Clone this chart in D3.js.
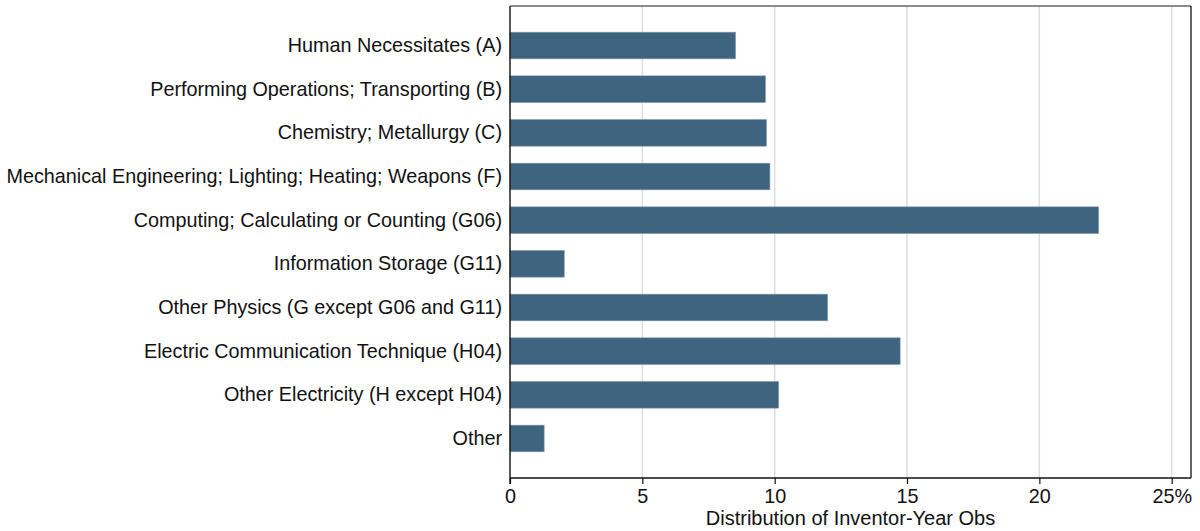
<!DOCTYPE html>
<html>
<head>
<meta charset="utf-8">
<script src="https://cdn.jsdelivr.net/npm/d3@7"></script>
<style>
  html, body { margin: 0; padding: 0; background: #fff; }
  svg { display: block; font-family: "Liberation Sans", Arial, sans-serif; }
</style>
</head>
<body>
<svg id="chart" width="1200" height="531"></svg>
<script>
// patent classes, top to bottom
var categories = [
  "Human Necessitates (A)",
  "Performing Operations; Transporting (B)",
  "Chemistry; Metallurgy (C)",
  "Mechanical Engineering; Lighting; Heating; Weapons (F)",
  "Computing; Calculating or Counting (G06)",
  "Information Storage (G11)",
  "Other Physics (G except G06 and G11)",
  "Electric Communication Technique (H04)",
  "Other Electricity (H except H04)",
  "Other"
];
// share of inventor-year obs, percent
var shares = [8.52, 9.65, 9.69, 9.82, 22.24, 2.05, 12.0, 14.74, 10.15, 1.29];
var xTicks = [0, 5, 10, 15, 20, 25];
var xTitle = "Distribution of Inventor-Year Obs";

(function () {
    var rows = categories.map(function (c, i) { return {name: c, value: shares[i]}; });

    // note: "top" is taken by window.top, so keep these local
    var pLeft = 510, pRight = 1191, pTop = 6, pBottom = 478;
    var svg = d3.select("#chart");

    var x = d3.scaleLinear().domain([0, 25]).range([pLeft, 1171.7]);
    var y = d3.scaleBand()
        .domain(categories)
        .range([pTop, pBottom])
        .paddingInner(0.39)
        .paddingOuter(0.6);

    // grid
    svg.append("g").selectAll("line")
        .data(xTicks.filter(function (t) { return t > 0; }))
        .enter().append("line")
        .attr("x1", function (d) { return x(d); })
        .attr("x2", function (d) { return x(d); })
        .attr("y1", pTop).attr("y2", pBottom)
        .attr("stroke", "#dddddd")
        .attr("stroke-width", 1.5);

    // bars
    svg.append("g").selectAll("rect")
        .data(rows)
        .enter().append("rect")
        .attr("x", x(0))
        .attr("y", function (d) { return y(d.name); })
        .attr("width", function (d) { return x(d.value) - x(0); })
        .attr("height", y.bandwidth())
        .attr("fill", "#3f6480")
        .attr("stroke", "#7d97ab")
        .attr("stroke-width", 0.6);

    // frame
    svg.append("line").attr("x1", pLeft).attr("x2", pRight).attr("y1", pTop).attr("y2", pTop)
        .attr("stroke", "#666").attr("stroke-width", 1.3);
    svg.append("line").attr("x1", pRight).attr("x2", pRight).attr("y1", pTop).attr("y2", pBottom)
        .attr("stroke", "#111").attr("stroke-width", 1.3);

    // x axis
    var xAxis = d3.axisBottom(x)
        .tickValues(xTicks)
        .tickSize(6)
        .tickSizeOuter(0)
        .tickFormat(function (d) { return d === 25 ? "25%" : d; });
    var gx = svg.append("g").attr("transform", "translate(0," + pBottom + ")").call(xAxis);
    gx.select(".domain").attr("stroke", "#111").attr("stroke-width", 1.4)
        .attr("d", "M" + pLeft + ",0H" + pRight);
    gx.selectAll(".tick line").attr("stroke", "#111").attr("stroke-width", 1.2);
    gx.selectAll(".tick text")
        .attr("y", 11)
        .attr("font-size", "19.8px")
        .attr("font-family", "Liberation Sans, Arial, sans-serif")
        .attr("fill", "#111");

    // y axis
    var yAxis = d3.axisLeft(y).tickSize(0).tickPadding(8);
    var gy = svg.append("g").attr("transform", "translate(" + pLeft + ",0)").call(yAxis);
    gy.select(".domain").attr("stroke", "#111").attr("stroke-width", 1.4)
        .attr("d", "M0," + pTop + "V" + (pBottom + 6));
    gy.selectAll(".tick text")
        .attr("font-size", "19.8px")
        .attr("font-family", "Liberation Sans, Arial, sans-serif")
        .attr("fill", "#111");

    // axis title
    svg.append("text")
        .attr("x", (pLeft + pRight) / 2)
        .attr("y", 525)
        .attr("text-anchor", "middle")
        .attr("font-size", "20px")
        .attr("fill", "#111")
        .text(xTitle);
})();
</script>
</body>
</html>
